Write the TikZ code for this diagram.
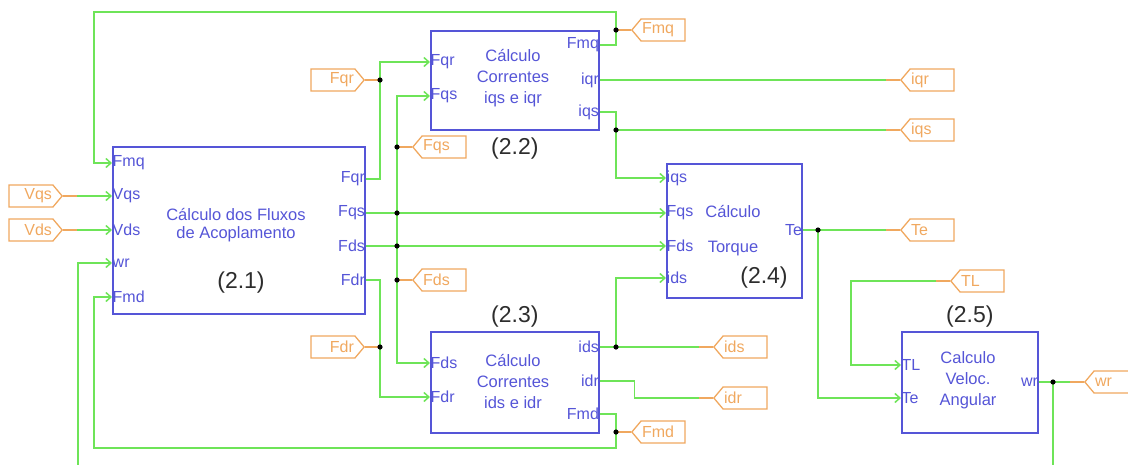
\documentclass[tikz,border=0pt]{standalone}
\usepackage{fontspec}
\setmainfont{Liberation Sans}
\usetikzlibrary{shapes.symbols, arrows.meta, positioning, calc}
\definecolor{wireg}{RGB}{110,228,88}
\definecolor{blockb}{RGB}{85,85,215}
\definecolor{tago}{RGB}{240,168,95}
\definecolor{numg}{RGB}{45,45,45}

\begin{document}
\begin{tikzpicture}[x=1pt, y=-1pt,
  block/.style={rectangle, draw=blockb, line width=1.6pt, inner sep=0pt, anchor=north west},
  title/.style={align=center, text=blockb, font=\fontsize{16.5}{21}\selectfont},
  pin/.style={text=blockb, inner sep=0.5pt, font=\fontsize{16}{16}\selectfont},
  num/.style={text=numg, inner sep=0pt, font=\fontsize{23}{23}\selectfont},
  wire/.style={draw=wireg, line width=1.5pt},
  feed/.style={wire, -{Straight Barb[length=5pt, width=9pt]}},
  tagin/.style={signal, signal to=east, signal pointer angle=100, draw=tago, line width=1.3pt,
    text=tago, minimum height=22pt, text width=42pt, align=right, inner xsep=1pt,
    font=\fontsize{16}{16}\selectfont},
  tagout/.style={tagin, signal to=west, align=left},
  stub/.style={draw=tago, line width=1.3pt}
]
  \path[use as bounding box, clip] (0,0) rectangle (1128,464);

  % blocks
  \node[block, minimum width=252pt, minimum height=167pt] (b1) at (112,146) {};
  \node[block, minimum width=168pt, minimum height=99pt] (b2) at (430,30) {};
  \node[block, minimum width=168pt, minimum height=101pt] (b3) at (430,331) {};
  \node[block, minimum width=135pt, minimum height=134pt] (b4) at (666,163) {};
  \node[block, minimum width=136pt, minimum height=101pt] (b5) at (901,331) {};

  \node[title] (t1) at (236,225) {Cálculo dos Fluxos\\[-3pt]de Acoplamento};
  \node[title] (t2) at (513,78.5) {Cálculo\\Correntes\\iqs e iqr};
  \node[title] (t3) at (513,381.5) {Cálculo\\Correntes\\ids e idr};
  \node[title, font=\fontsize{16.5}{35}\selectfont] (t4) at (733,230.5) {Cálculo\\Torque};
  \node[title] (t5) at (968,380) {Calculo\\Veloc.\\Angular};

  \node[num] (n1) at (241,283) {(2.1)};
  \node[num, below=7pt of b2] (n2) {(2.2)};
  \node[num, above=3.5pt of b3] (n3) {(2.3)};
  \node[num] (n4) at (764,278) {(2.4)};
  \node[num, above=3.5pt of b5] (n5) {(2.5)};

  % ports
  \foreach \id/\txt/\y in {fmq/Fmq/163, vqs/Vqs/196, vds/Vds/230, wr/wr/263, fmd/Fmd/297}
    \node[pin, anchor=west] (b1\id) at (b1.west |- 0,\y) {\txt};
  \foreach \id/\txt/\y in {fqr/Fqr/179, fqs/Fqs/213, fds/Fds/246, fdr/Fdr/280}
    \node[pin, anchor=east] (b1\id) at (b1.east |- 0,\y) {\txt};
  \foreach \id/\txt/\y in {fqr/Fqr/62, fqs/Fqs/96}
    \node[pin, anchor=west] (b2\id) at (b2.west |- 0,\y) {\txt};
  \foreach \id/\txt/\y in {fmq/Fmq/45, iqr/iqr/80, iqs/iqs/112}
    \node[pin, anchor=east] (b2\id) at (b2.east |- 0,\y) {\txt};
  \foreach \id/\txt/\y in {fds/Fds/363, fdr/Fdr/397}
    \node[pin, anchor=west] (b3\id) at (b3.west |- 0,\y) {\txt};
  \foreach \id/\txt/\y in {ids/ids/347, idr/idr/381, fmd/Fmd/414}
    \node[pin, anchor=east] (b3\id) at (b3.east |- 0,\y) {\txt};
  \foreach \id/\txt/\y in {iqs/iqs/178, fqs/Fqs/213, fds/Fds/246, ids/ids/278}
    \node[pin, anchor=west] (b4\id) at (b4.west |- 0,\y) {\txt};
  \node[pin, anchor=east] (b4te) at (b4.east |- 0,230) {Te};
  \foreach \id/\txt/\y in {tl/TL/365, te/Te/398}
    \node[pin, anchor=west] (b5\id) at (b5.west |- 0,\y) {\txt};
  \node[pin, anchor=east] (b5wr) at (b5.east |- 0,382) {wr};

  % tags
  \node[tagin, anchor=east] (tvqs) at (63,196) {Vqs};
  \node[tagin, anchor=east] (tvds) at (63,230) {Vds};
  \node[tagin, anchor=east] (tfqr) at (365,80) {Fqr};
  \node[tagin, anchor=east] (tfdr) at (365,347) {Fdr};
  \node[tagout, anchor=west] (tfmq) at (631,30) {Fmq};
  \node[tagout, anchor=west] (tfqs) at (412,147) {Fqs};
  \node[tagout, anchor=west] (tfds) at (412,280) {Fds};
  \node[tagout, anchor=west] (tiqr) at (900,80) {iqr};
  \node[tagout, anchor=west] (tiqs) at (900,130) {iqs};
  \node[tagout, anchor=west] (tte) at (900,230) {Te};
  \node[tagout, anchor=west] (ttl) at (950,281) {TL};
  \node[tagout, anchor=west] (tids) at (713,347) {ids};
  \node[tagout, anchor=west] (tidr) at (713,398) {idr};
  \node[tagout, anchor=west] (tfmd) at (631,432) {Fmd};
  \node[tagout, anchor=west] (twr) at (1084,382) {wr};

  % junctions
  \coordinate (jfmq) at (616,30);
  \coordinate (jfqr) at (380,80);
  \coordinate (jfqs) at (397,213);
  \coordinate (jfqt) at (397,147);
  \coordinate (jfds) at (397,246);
  \coordinate (jfdt) at (397,280);
  \coordinate (jfdr) at (380,347);
  \coordinate (jiqs) at (616,130);
  \coordinate (jids) at (616,347);
  \coordinate (jfmd) at (616,432);
  \coordinate (jte) at (818,230);
  \coordinate (jwr) at (1053,382);

  % wires
  \draw[feed] (b2fmq.east) -| (jfmq) |- (94,12) |- (b1fmq.west);
  \draw[wire] (jfmq) -- (tfmq.west);
  \draw[feed] (tvqs.east) -- (b1vqs.west);
  \draw[feed] (tvds.east) -- (b1vds.west);
  \draw[feed] (b1fqr.east) -| (jfqr) |- (b2fqr.west);
  \draw[wire] (tfqr.east) -- (jfqr);
  \draw[feed] (b1fqs.east) -- (b4fqs.west);
  \draw[feed] (jfqs) |- (b2fqs.west);
  \draw[wire] (jfqt) -- (tfqs.west);
  \draw[feed] (b1fds.east) -- (b4fds.west);
  \draw[wire] (jfqs) -- (jfds);
  \draw[feed] (jfds) |- (b3fds.west);
  \draw[wire] (jfdt) -- (tfds.west);
  \draw[feed] (b1fdr.east) -| (jfdr) |- (b3fdr.west);
  \draw[wire] (tfdr.east) -- (jfdr);
  \draw[wire] (b2iqr.east) -- (tiqr.west);
  \draw[feed] (b2iqs.east) -| (jiqs) |- (b4iqs.west);
  \draw[wire] (jiqs) -- (tiqs.west);
  \draw[wire] (b3ids.east) -- (tids.west);
  \draw[feed] (jids) |- (b4ids.west);
  \draw[wire] (b3idr.east) -- ++(35,0) |- (tidr.west);
  \draw[feed] (b3fmd.east) -| (jfmd) -- ++(0,16) -| (94,297) -- (b1fmd.west);
  \draw[wire] (jfmd) -- (tfmd.west);
  \draw[wire] (b4te.east) -- (tte.west);
  \draw[feed] (jte) |- (b5te.west);
  \draw[feed] (ttl.west) -| (851,365) -- (b5tl.west);
  \draw[wire] (b5wr.east) -- (twr.west);
  \draw[feed] (jwr) |- (78,472) |- (b1wr.west);

  % orange stubs and dots
  \foreach \t in {tvqs, tvds, tfqr, tfdr}
    \draw[stub] (\t.east) -- ++(14,0);
  \foreach \t in {tfmq, tfqs, tfds, tiqr, tiqs, tte, ttl, tids, tidr, tfmd, twr}
    \draw[stub] (\t.west) -- ++(-14,0);
  \foreach \j in {jfmq, jfqr, jfqs, jfqt, jfds, jfdt, jfdr, jiqs, jids, jfmd, jte, jwr}
    \fill (\j) circle (2.6pt);
\end{tikzpicture}
\end{document}
